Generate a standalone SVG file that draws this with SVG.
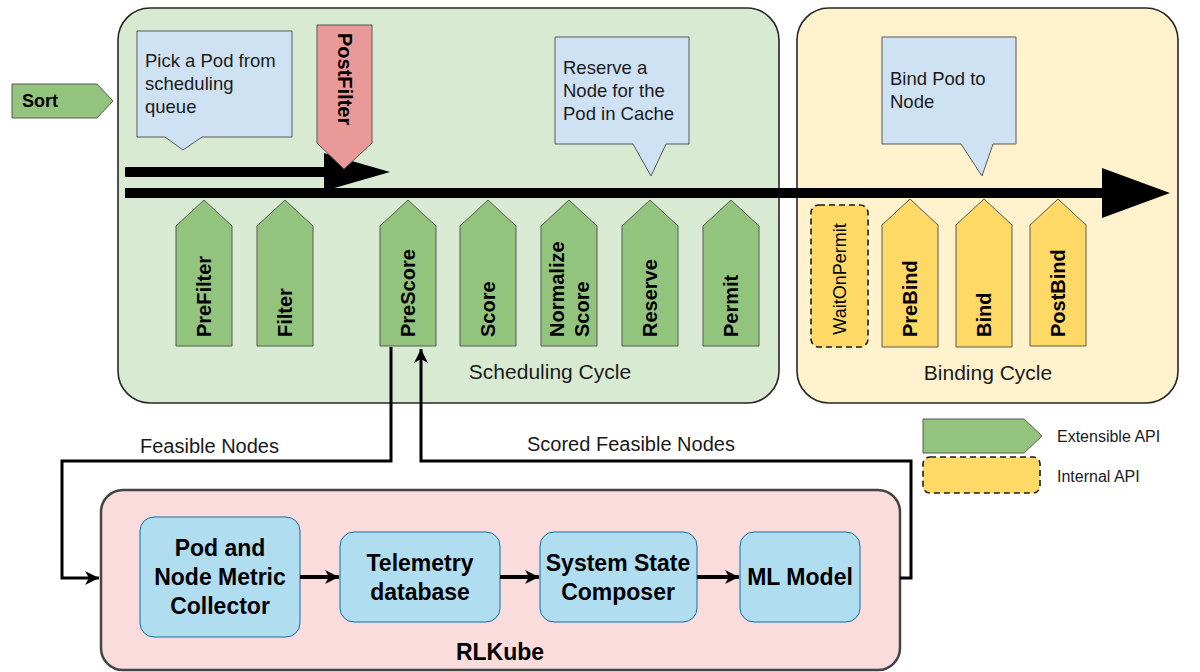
<svg xmlns="http://www.w3.org/2000/svg" width="1200" height="672" viewBox="0 0 1200 672">
<style>
.cycle{stroke:#262626;stroke-width:1.6}
.ext{fill:#93c47d;stroke:#595959;stroke-width:1}
.bindp{fill:#ffd966;stroke:#595959;stroke-width:1}
.post{fill:#ea9999;stroke:#595959;stroke-width:1}
.call{fill:#cfe2f3;stroke:#595959;stroke-width:1}
.lbl{font-family:"Liberation Sans",Arial,sans-serif;font-weight:bold;font-size:20px;fill:#000}
.txt{font-family:"Liberation Sans",Arial,sans-serif;font-size:18.5px;fill:#1a1a1a}
.cap{font-family:"Liberation Sans",Arial,sans-serif;font-size:21px;fill:#1a1a1a}
.con{font-family:"Liberation Sans",Arial,sans-serif;font-size:20px;fill:#1a1a1a}
.leg{font-family:"Liberation Sans",Arial,sans-serif;font-size:16px;fill:#1a1a1a}
.comp{fill:#b1ddf0;stroke:#10739e;stroke-width:1}
.ct{font-family:"Liberation Sans",Arial,sans-serif;font-weight:bold;font-size:23px;fill:#000;text-anchor:middle}
.conn{fill:none;stroke:#000;stroke-width:3}
</style>
<defs>
<marker id="ah" markerUnits="userSpaceOnUse" markerWidth="16" markerHeight="16" refX="14" refY="8" orient="auto">
<path d="M0,1 L14,8 L0,15 L4,8 Z" fill="#000"/>
</marker>
</defs>

<g id="scheduling-cycle">
<rect class="cycle" x="118" y="8" width="661" height="395" rx="32" fill="#d9ead3"/>
<text class="cap" x="550" y="379" text-anchor="middle">Scheduling Cycle</text>
</g>
<g id="binding-cycle">
<rect class="cycle" x="797" y="8" width="381" height="395" rx="32" fill="#fff2cc"/>
<text class="cap" x="988" y="380" text-anchor="middle">Binding Cycle</text>
</g>

<g id="flow-arrows">
<path d="M125,172 H328" stroke="#000" stroke-width="10"/>
<polygon points="324,153 390,172 324,191" fill="#000"/>
<path d="M125,193 H1106" stroke="#000" stroke-width="10"/>
<polygon points="1102,168 1170,193 1102,218" fill="#000"/>
</g>

<g id="sort">
<polygon class="ext" points="12,84 97,84 113,101 97,118 12,118"/>
<text class="lbl" x="22" y="107" style="font-size:18px">Sort</text>
</g>

<g id="callout-pick">
<path class="call" d="M137,31 H292 V137 H202 L183,150 L165,137 H137 Z"/>
<text class="txt"><tspan x="145" y="67">Pick a Pod from</tspan><tspan x="145" y="90">scheduling</tspan><tspan x="145" y="113">queue</tspan></text>
</g>

<g id="postfilter">
<polygon class="post" points="317,25 372,25 372,143 344,169 317,143"/>
<text class="lbl" transform="translate(338,33) rotate(90)">PostFilter</text>
</g>

<g id="callout-reserve">
<path class="call" d="M555,37 H689 V144 H666 L651,176 L633,144 H555 Z"/>
<text class="txt"><tspan x="563" y="74">Reserve a</tspan><tspan x="563" y="97">Node for the</tspan><tspan x="563" y="120">Pod in Cache</tspan></text>
</g>

<g id="callout-bind">
<path class="call" d="M882,37 H1016 V144 H993 L982,176 L961,144 H882 Z"/>
<text class="txt"><tspan x="890" y="85">Bind Pod to</tspan><tspan x="890" y="108">Node</tspan></text>
</g>

<g id="prefilter">
<polygon class="ext" points="176,226 204,200 232,226 232,346 176,346"/>
<text class="lbl" transform="translate(211,337) rotate(-90)">PreFilter</text>
</g>
<g id="filter">
<polygon class="ext" points="257,226 285,200 313,226 313,346 257,346"/>
<text class="lbl" transform="translate(292,337) rotate(-90)">Filter</text>
</g>
<g id="prescore">
<polygon class="ext" points="380,226 408,200 436,226 436,346 380,346"/>
<text class="lbl" transform="translate(415,337) rotate(-90)">PreScore</text>
</g>
<g id="score">
<polygon class="ext" points="460,226 488,200 516,226 516,346 460,346"/>
<text class="lbl" transform="translate(495,337) rotate(-90)">Score</text>
</g>
<g id="normalize-score">
<polygon class="ext" points="541,226 569,200 597,226 597,346 541,346"/>
<text class="lbl" transform="translate(564,337) rotate(-90)">Normalize</text>
<text class="lbl" transform="translate(589,337) rotate(-90)">Score</text>
</g>
<g id="reserve">
<polygon class="ext" points="622,226 650,200 678,226 678,346 622,346"/>
<text class="lbl" transform="translate(657,337) rotate(-90)">Reserve</text>
</g>
<g id="permit">
<polygon class="ext" points="703,226 731,200 759,226 759,346 703,346"/>
<text class="lbl" transform="translate(738,337) rotate(-90)">Permit</text>
</g>

<g id="waitonpermit">
<rect class="bindp" x="811" y="205" width="57" height="142" rx="8" style="stroke:#1a1a1a;stroke-width:1.6;stroke-dasharray:6,4"/>
<text class="txt" text-anchor="middle" transform="translate(846,279) rotate(-90)" style="fill:#000;font-size:18px">WaitOnPermit</text>
</g>
<g id="prebind">
<polygon class="bindp" points="882,225 910,199 938,225 938,347 882,347"/>
<text class="lbl" transform="translate(917,337) rotate(-90)">PreBind</text>
</g>
<g id="bind">
<polygon class="bindp" points="956,225 984,199 1012,225 1012,347 956,347"/>
<text class="lbl" transform="translate(991,337) rotate(-90)">Bind</text>
</g>
<g id="postbind">
<polygon class="bindp" points="1030,225 1058,199 1086,225 1086,346 1030,346"/>
<text class="lbl" transform="translate(1065,337) rotate(-90)">PostBind</text>
</g>

<g id="legend">
<polygon class="ext" points="923,419 1024,419 1042,436 1024,453 923,453"/>
<text class="leg" x="1057" y="442">Extensible API</text>
<rect class="bindp" x="923" y="457" width="117" height="36" rx="7" style="stroke:#1a1a1a;stroke-width:1.6;stroke-dasharray:6,4"/>
<text class="leg" x="1057" y="482">Internal API</text>
</g>

<g id="rlkube">
<rect x="101" y="490" width="799" height="180" rx="22" fill="#f9dcdb" stroke="#444" stroke-width="2.5"/>
<text class="ct" x="500" y="660">RLKube</text>
</g>
<g id="collector">
<rect class="comp" x="140" y="517" width="160" height="120" rx="14"/>
<text class="ct"><tspan x="220" y="556">Pod and</tspan><tspan x="220" y="585">Node Metric</tspan><tspan x="220" y="614">Collector</tspan></text>
</g>
<g id="telemetry">
<rect class="comp" x="340" y="532" width="160" height="90" rx="14"/>
<text class="ct"><tspan x="420" y="571">Telemetry</tspan><tspan x="420" y="600">database</tspan></text>
</g>
<g id="composer">
<rect class="comp" x="540" y="532" width="157" height="90" rx="14"/>
<text class="ct"><tspan x="618" y="571">System State</tspan><tspan x="618" y="600">Composer</tspan></text>
</g>
<g id="ml-model">
<rect class="comp" x="740" y="532" width="120" height="90" rx="14"/>
<text class="ct" x="800" y="585">ML Model</text>
</g>

<g id="connectors">
<path class="conn" d="M391,347 V461 H62 V578 H99" marker-end="url(#ah)"/>
<path class="conn" d="M900,578 H911 V461 H421 V349" marker-end="url(#ah)"/>
<path class="conn" style="stroke-width:4" d="M300,577 H339" marker-end="url(#ah)"/>
<path class="conn" style="stroke-width:4" d="M500,577 H539" marker-end="url(#ah)"/>
<path class="conn" style="stroke-width:4" d="M697,577 H739" marker-end="url(#ah)"/>
<text class="con" x="140" y="453">Feasible Nodes</text>
<text class="con" x="527" y="451">Scored Feasible Nodes</text>
</g>
</svg>
